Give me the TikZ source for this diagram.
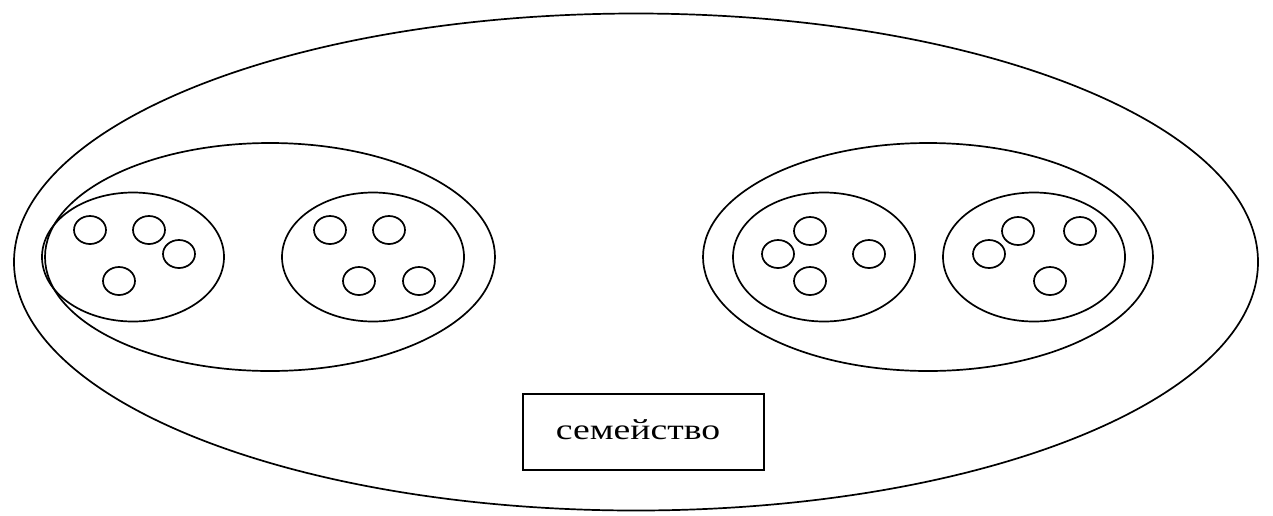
\documentclass[tikz,border=0pt]{standalone}
\usepackage{fontspec}
\newfontfamily\serfam{Liberation Serif}
\usetikzlibrary{shapes.geometric}
\tikzset{
  oval/.style={draw, ellipse, line width=1.7pt, inner sep=0pt, outer sep=0pt},
  person/.style={oval, minimum width=32pt, minimum height=28pt},
  famgroup/.style={oval, minimum width=182pt, minimum height=129pt},
  clan/.style={oval, minimum width=450pt, minimum height=228pt},
  labelbox/.style={draw, line width=1.7pt, minimum width=241pt, minimum height=76pt, inner sep=0pt},
  labeltext/.style={inner sep=0pt, xscale=1.3, font=\serfam\fontsize{29}{34}\selectfont}
}
\begin{document}
\begin{tikzpicture}[x=1pt, y=-1pt]
\useasboundingbox (0,0) rectangle (1273,515);
% outer
\node[oval, minimum width=1244pt, minimum height=497pt] (outer) at (636,262) {};
% big groups
\node[clan] (clanL) at (270,257) {};
\node[clan] (clanR) at (928,257) {};
% families
\node[famgroup] (famA) at (133,257) {};
\node[famgroup] (famB) at (373,257) {};
\node[famgroup] (famC) at (824,257) {};
\node[famgroup] (famD) at (1034,257) {};
% persons A
\node[person] (a1) at (90,230) {};
\node[person] (a2) at (149,230) {};
\node[person] (a3) at (179,254) {};
\node[person] (a4) at (119,281) {};
% persons B
\node[person] (b1) at (330,230) {};
\node[person] (b2) at (389,230) {};
\node[person] (b3) at (359,281) {};
\node[person] (b4) at (419,281) {};
% persons C
\node[person] (c1) at (810,231) {};
\node[person] (c2) at (778,254) {};
\node[person] (c3) at (810,281) {};
\node[person] (c4) at (869,254) {};
% persons D
\node[person] (d1) at (1018,231) {};
\node[person] (d2) at (989,254) {};
\node[person] (d3) at (1080,231) {};
\node[person] (d4) at (1050,281) {};
% label
\node[labelbox] (lbl) at (643.5,432) {};
\node[labeltext] (lbltext) at (638,430) {семейство};
\end{tikzpicture}
\end{document}
